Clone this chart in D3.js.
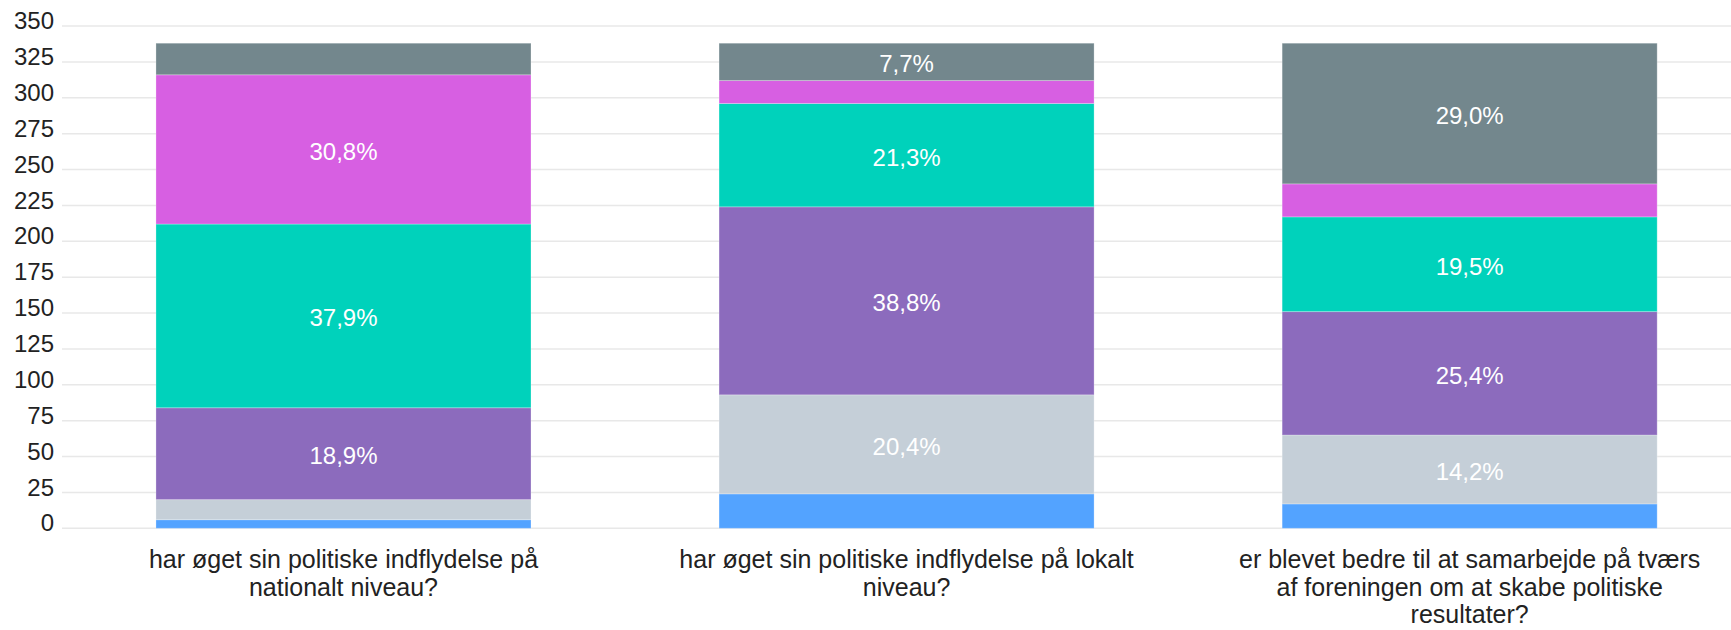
<html>
<head>
  <meta charset="utf-8">
  <style>
    body { margin: 0; background: #fff; }
    svg text { font-family: "Liberation Sans", Arial, sans-serif; }
  </style>
</head>
<body>
  <svg width="1731" height="630"></svg>
  <script src="https://cdn.jsdelivr.net/npm/d3@7/dist/d3.min.js"></script>
  <script>

  // categories (x axis)
  var categories = [
    "har øget sin politiske indflydelse på nationalt niveau?",
    "har øget sin politiske indflydelse på lokalt niveau?",
    "er blevet bedre til at samarbejde på tværs af foreningen om at skabe politiske resultater?"
  ];

  // stack order, bottom to top
  var seriesKeys = ["s1", "s2", "s3", "s4", "s5", "s6"];
  var seriesColors = ["#53a3ff", "#c5cfd8", "#8c6bbd", "#00d2bb", "#d75fe2", "#73878d"];

  // counts per series, one value per category
  var s1 = [6, 24, 17];
  var s2 = [14, 69, 48];
  var s3 = [64, 131, 86];
  var s4 = [128, 72, 66];
  var s5 = [104, 16, 23];
  var s6 = [22, 26, 98];

  var yTicks = [0, 25, 50, 75, 100, 125, 150, 175, 200, 225, 250, 275, 300, 325, 350];

  var svg = d3.select("svg"),
    width = +svg.attr("width"),
    height = +svg.attr("height");

  var seriesValues = [s1, s2, s3, s4, s5, s6];
  var rows = categories.map(function(c, i) {
    var r = {cat: c};
    seriesKeys.forEach(function(k, j) { r[k] = seriesValues[j][i]; });
    r.total = d3.sum(seriesValues, function(s) { return s[i]; });
    return r;
  });

  var X = d3.scaleBand().domain(categories).range([62, width])
    .paddingInner(0.334).paddingOuter(0.149).align(0.56);
  var Y = d3.scaleLinear().domain([0, 350]).range([528.3, 26]);
  var color = d3.scaleOrdinal().domain(seriesKeys).range(seriesColors);

  // grid
  svg.append("g")
    .selectAll("line")
    .data(yTicks)
    .enter()
    .append("line")
    .attr("x1", 62)
    .attr("x2", width)
    .attr("y1", function(d) { return Y(d); })
    .attr("y2", function(d) { return Y(d); })
    .attr("stroke", "#e8e8e8")
    .attr("stroke-width", 1.5);

  // y axis labels
  var yAxis = d3.axisLeft(Y).tickValues(yTicks).tickSize(0).tickPadding(0);
  svg.append("g")
    .attr("transform", "translate(54,-5)")
    .call(yAxis)
    .call(function(g) { g.select(".domain").remove(); })
    .selectAll("text")
    .attr("font-size", 24)
    .attr("font-family", "'Liberation Sans', Arial, sans-serif")
    .attr("fill", "#222");

  var stacked = d3.stack().keys(seriesKeys)(rows);
  var fmt = function(v) { return (v * 100).toFixed(1).replace(".", ",") + "%"; };

  var layers = svg.append("g")
    .selectAll("g")
    .data(stacked)
    .enter()
    .append("g")
    .attr("fill", function(d) { return color(d.key); });

  layers.selectAll("rect")
    .data(function(d) { return d; })
    .enter()
    .append("rect")
    .attr("x", function(d) { return X(d.data.cat); })
    .attr("width", X.bandwidth())
    .attr("y", function(d) { return Y(d[1]); })
    .attr("height", function(d) { return Y(d[0]) - Y(d[1]); })
    .attr("stroke", "#fff")
    .attr("stroke-opacity", 0.25)
    .attr("stroke-width", 1);

  // percentage labels
  layers.selectAll("text")
    .data(function(d) { return d; })
    .enter()
    .filter(function(d) { return (d[1] - d[0]) / d.data.total >= 0.075; })
    .append("text")
    .attr("x", function(d) { return X(d.data.cat) + X.bandwidth() / 2; })
    .attr("y", function(d) { return (Y(d[0]) + Y(d[1])) / 2 + 2; })
    .attr("dy", "0.35em")
    .attr("text-anchor", "middle")
    .attr("font-size", 24)
    .attr("fill", "#fff")
    .text(function(d) { return fmt((d[1] - d[0]) / d.data.total); });

  // category labels, wrapped
  var xAxis = d3.axisBottom(X).tickSize(0).tickPadding(0);
  var xg = svg.append("g")
    .call(xAxis);
  xg.select(".domain").remove();
  xg.selectAll("text")
    .attr("font-size", 25)
    .attr("font-family", "'Liberation Sans', Arial, sans-serif")
    .attr("fill", "#222")
    .each(function(d) {
      var t = d3.select(this);
      var words = d.split(" ");
      t.text(null).attr("y", 568).attr("dy", null);
      var line = [], lines = 0;
      var tspan = t.append("tspan").attr("x", 0).attr("y", 568);
      words.forEach(function(w) {
        line.push(w);
        tspan.text(line.join(" "));
        if (tspan.node().getComputedTextLength() > 475 && line.length > 1) {
          line.pop();
          tspan.text(line.join(" "));
          line = [w];
          lines++;
          tspan = t.append("tspan").attr("x", 0).attr("y", 568 + lines * 27.5).text(w);
        }
      });
    });

  </script>
</body>
</html>
